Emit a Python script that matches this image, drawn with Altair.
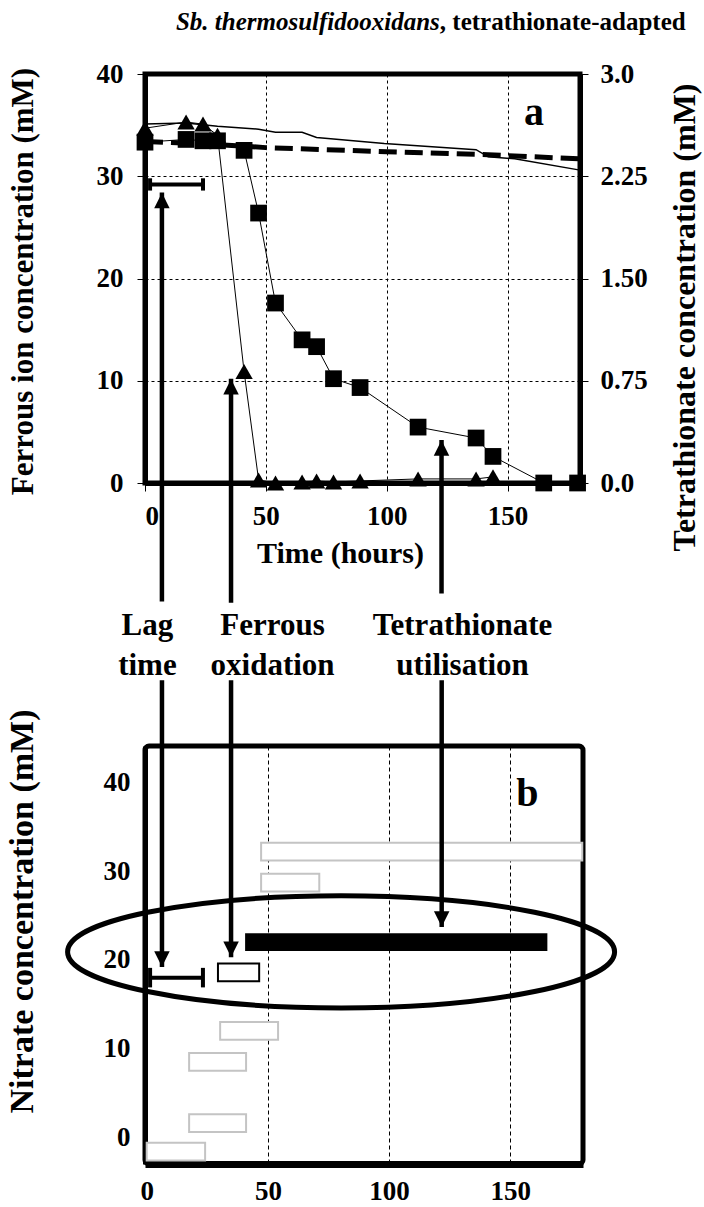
import altair as alt
import pandas as pd

FONT = "Liberation Serif"

# ---------------- Panel a data ----------------
# Ferrous ion (triangles, left axis, mM)
fe_hours = [0, 17, 24, 30, 41, 47, 54, 65, 71, 78, 89, 113, 137, 144]
fe_conc = [34.7, 35.3, 35.1, 34.0, 10.9, 0.3, 0.0, 0.1, 0.2, 0.1, 0.2, 0.4, 0.4, 0.6]

# Tetrathionate (squares, right axis, mM)
tet_hours = [0, 17, 24, 30, 41, 47, 54, 65, 71, 78, 89, 113, 137, 144, 165, 179]
tet_conc = [2.50, 2.52, 2.51, 2.51, 2.44, 1.98, 1.32, 1.05, 1.00, 0.765, 0.70, 0.41, 0.33, 0.195, 0.0, 0.0]

# Solid thin line (left axis)
solid_hours = [0, 17, 30, 47, 54, 65, 71, 99, 137, 142, 153, 180]
solid_vals = [35.1, 35.2, 34.9, 34.6, 34.3, 34.3, 33.8, 33.2, 32.6, 31.9, 31.7, 30.6]

# Thick dashed line (left axis)
dash_hours = [0, 30, 50, 100, 142, 180]
dash_vals = [33.4, 33.1, 32.8, 32.4, 32.1, 31.7]

# Lag bracket in panel a
lag_a_start, lag_a_end, lag_a_level, lag_a_cap = 2.1, 24.0, 29.2, 0.6

# Arrows (panel a part: pointing up)
arrow_hours_a = [7.0, 35.6, 122.7]
arrow_tip_a = [28.4, 10.2, 4.2]
arrow_base_a = [-11.6, -11.7, -10.8]

# Annotation labels
label_lines = ["Lag", "time", "Ferrous", "oxidation", "Tetrathionate", "utilisation"]
label_hours = [1.0, 1.0, 52.8, 52.8, 131.4, 131.4]
label_levels = [-14.9, -18.8, -14.9, -18.8, -14.9, -18.8]

# ---------------- Panel b data ----------------
gray_start = [47.2, 47.2, 30.3, 17.5, 17.5, 0.0]
gray_end = [179.7, 71.2, 54.2, 41.0, 41.0, 24.1]
gray_level = [32.2, 28.7, 12.0, 8.5, 1.6, -1.6]

black_start, black_end, black_level = [40.6], [165.3], [22.0]
box_start, box_end, box_level = [29.4], [46.4], [18.6]
bar_half = 1.0

lag_b_start, lag_b_end, lag_b_level, lag_b_cap = 1.4, 23.2, 18.0, 1.1

arrow_hours_b = [6.3, 34.8, 121.7]
arrow_tip_b = [19.2, 20.3, 23.7]
arrow_base_b = [51.5, 51.5, 51.5]

ellipse_hour, ellipse_level = [80.2], [20.9]

# ---------------- helpers ----------------
BLACK = "black"


def ax_x_a():
    return alt.X(
        "h:Q",
        scale=alt.Scale(domain=[0, 180], nice=False, zero=False),
        axis=alt.Axis(
            values=[0, 50, 100, 150], grid=True, gridColor=BLACK, gridDash=[3, 3], gridWidth=1,
            domainWidth=5, domainColor=BLACK, tickSize=8, tickWidth=1, tickColor=BLACK,
            labelPadding=12, labelFontSize=27, labelFont=FONT, labelFontWeight="bold", labelColor=BLACK,
            title="Time (hours)", titleX=195, titleY=70, titleAlign="center", titleBaseline="middle",
            titleFontSize=30, titleFont=FONT, titleFontWeight="bold", titleColor=BLACK,
        ),
    )


def ax_y_a():
    return alt.Y(
        "v:Q",
        scale=alt.Scale(domain=[0, 40], nice=False, zero=False),
        axis=alt.Axis(
            values=[0, 10, 20, 30, 40], grid=True, gridColor=BLACK, gridDash=[3, 3], gridWidth=1,
            domainWidth=5, domainColor=BLACK, tickSize=8, tickWidth=1, tickColor=BLACK,
            labelPadding=14, labelFontSize=27, labelFont=FONT, labelFontWeight="bold", labelColor=BLACK,
            title="Ferrous ion concentration (mM)", titleX=-122, titleY=207, titleAngle=270,
            titleAlign="center", titleBaseline="middle",
            titleFontSize=31, titleFont=FONT, titleFontWeight="bold", titleColor=BLACK,
        ),
    )


def ax_y_r():
    return alt.Y(
        "v:Q",
        scale=alt.Scale(domain=[0, 3], nice=False, zero=False),
        axis=alt.Axis(
            orient="right", values=[0, 0.75, 1.5, 2.25, 3.0],
            labelExpr="datum.value == 0 ? '0.0' : (datum.value == 3 ? '3.0' : format(datum.value, '.2f'))",
            grid=False, domainWidth=5, domainColor=BLACK, tickSize=8, tickWidth=1, tickColor=BLACK,
            labelPadding=12, labelFontSize=27, labelFont=FONT, labelFontWeight="bold", labelColor=BLACK,
            title="Tetrathionate concentration (mM)", titleX=104, titleY=243, titleAngle=270,
            titleAlign="center", titleBaseline="middle",
            titleFontSize=32, titleFont=FONT, titleFontWeight="bold", titleColor=BLACK,
        ),
    )


def ax_x_b():
    return alt.X(
        "h:Q",
        scale=alt.Scale(domain=[-0.7, 180], nice=False, zero=False),
        axis=alt.Axis(
            values=[0, 50, 100, 150], grid=True, gridColor=BLACK, gridDash=[4, 3], gridWidth=1,
            domainWidth=7, domainColor=BLACK, ticks=False, tickSize=0,
            labelPadding=14, labelFontSize=27, labelFont=FONT, labelFontWeight="bold", labelColor=BLACK,
            title=None,
        ),
    )


def ax_y_b():
    return alt.Y(
        "v:Q",
        scale=alt.Scale(domain=[-3, 44.1], nice=False, zero=False),
        axis=alt.Axis(
            values=[0, 10, 20, 30, 40], grid=False, domainWidth=5, domainColor=BLACK,
            ticks=False, tickSize=0,
            labelPadding=15, labelFontSize=27, labelFont=FONT, labelFontWeight="bold", labelColor=BLACK,
            title="Nitrate concentration (mM)", titleX=-123, titleY=165, titleAngle=270,
            titleAlign="center", titleBaseline="middle",
            titleFontSize=34, titleFont=FONT, titleFontWeight="bold", titleColor=BLACK,
        ),
    )


# ---------------- Panel a ----------------
solid_df = pd.DataFrame({"h": solid_hours, "v": solid_vals})
dash_df = pd.DataFrame({"h": dash_hours, "v": dash_vals})
fe_df = pd.DataFrame({"h": fe_hours, "v": fe_conc})
tet_df = pd.DataFrame({"h": tet_hours, "v": tet_conc})

solid_line = alt.Chart(solid_df).mark_line(color=BLACK, strokeWidth=1.5).encode(x=ax_x_a(), y=ax_y_a())
dash_line = alt.Chart(dash_df).mark_line(color=BLACK, strokeWidth=5, strokeDash=[18, 8]).encode(x=ax_x_a(), y=ax_y_a())
fe_line = alt.Chart(fe_df).mark_line(color=BLACK, strokeWidth=1).encode(x=ax_x_a(), y=ax_y_a())
fe_pts = alt.Chart(fe_df).mark_point(shape="triangle-up", filled=True, size=300, color=BLACK, opacity=1).encode(
    x=ax_x_a(), y=ax_y_a())

lag_a_df = pd.DataFrame({"h": [lag_a_start], "h2": [lag_a_end], "v": [lag_a_level]})
lag_a_rule = alt.Chart(lag_a_df).mark_rule(color=BLACK, strokeWidth=4).encode(x=ax_x_a(), x2="h2:Q", y=ax_y_a())
lag_a_caps_df = pd.DataFrame({"h": [lag_a_start, lag_a_end],
                              "v": [lag_a_level - lag_a_cap] * 2, "v2": [lag_a_level + lag_a_cap] * 2})
lag_a_caps = alt.Chart(lag_a_caps_df).mark_rule(color=BLACK, strokeWidth=4).encode(x=ax_x_a(), y=ax_y_a(), y2="v2:Q")

arr_a_df = pd.DataFrame({"h": arrow_hours_a, "v": arrow_base_a, "v2": arrow_tip_a})
arr_a_lines = alt.Chart(arr_a_df).mark_rule(color=BLACK, strokeWidth=4.5).encode(x=ax_x_a(), y=ax_y_a(), y2="v2:Q")
arr_a_head_df = pd.DataFrame({"h": arrow_hours_a, "v": arrow_tip_a})
arr_a_heads = alt.Chart(arr_a_head_df).mark_point(
    shape="M0,-1L-1,1L1,1Z", filled=True, size=240, color=BLACK, opacity=1, yOffset=8
).encode(x=ax_x_a(), y=ax_y_a())

lab_df = pd.DataFrame({"h": label_hours, "v": label_levels, "t": label_lines})
labels = alt.Chart(lab_df).mark_text(
    font=FONT, fontWeight="bold", fontSize=31, align="center", baseline="alphabetic", color=BLACK
).encode(x=ax_x_a(), y=ax_y_a(), text="t:N")

title_it = alt.Chart(pd.DataFrame({"h": [122.0], "v": [45.1], "t": ["Sb. thermosulfidooxidans"]})).mark_text(
    font=FONT, fontWeight="bold", fontStyle="italic", fontSize=25, align="right", baseline="middle", color=BLACK
).encode(x=ax_x_a(), y=ax_y_a(), text="t:N")
title_rest = alt.Chart(pd.DataFrame({"h": [122.0], "v": [45.1], "t": [",  tetrathionate-adapted"]})).mark_text(
    font=FONT, fontWeight="bold", fontSize=25, align="left", baseline="middle", color=BLACK
).encode(x=ax_x_a(), y=ax_y_a(), text="t:N")

tag_a = alt.Chart(pd.DataFrame({"h": [161], "v": [35.0], "t": ["a"]})).mark_text(
    font=FONT, fontWeight="bold", fontSize=40, align="center", baseline="alphabetic", color=BLACK
).encode(x=ax_x_a(), y=ax_y_a(), text="t:N")

sq_line = alt.Chart(tet_df).mark_line(color=BLACK, strokeWidth=1).encode(x=ax_x_a(), y=ax_y_r())
sq_pts = alt.Chart(tet_df).mark_point(shape="square", filled=True, size=280, color=BLACK, opacity=1).encode(
    x=ax_x_a(), y=ax_y_r())

left_group = alt.layer(
    solid_line, dash_line, fe_line, fe_pts, lag_a_rule, lag_a_caps,
    arr_a_lines, arr_a_heads, labels, title_it, title_rest, tag_a,
)
right_group = alt.layer(sq_line, sq_pts)

panel_a = alt.layer(right_group, left_group).resolve_scale(y="independent").properties(
    width=435, height=409, view=alt.ViewBackground(stroke=BLACK, strokeWidth=5, fill=None)
)

# ---------------- Panel b ----------------
gray_df = pd.DataFrame({"h": gray_start, "h2": gray_end,
                        "v": [g - bar_half for g in gray_level], "v2": [g + bar_half for g in gray_level]})
gray_bars = alt.Chart(gray_df).mark_rect(fill="white", stroke="#c4c4c4", strokeWidth=2).encode(
    x=ax_x_b(), x2="h2:Q", y=ax_y_b(), y2="v2:Q")

black_df = pd.DataFrame({"h": black_start, "h2": black_end,
                         "v": [b - bar_half for b in black_level], "v2": [b + bar_half for b in black_level]})
black_bar = alt.Chart(black_df).mark_rect(fill=BLACK).encode(x=ax_x_b(), x2="h2:Q", y=ax_y_b(), y2="v2:Q")

box_df = pd.DataFrame({"h": box_start, "h2": box_end,
                       "v": [b - bar_half for b in box_level], "v2": [b + bar_half for b in box_level]})
box_bar = alt.Chart(box_df).mark_rect(fill="white", stroke=BLACK, strokeWidth=2).encode(
    x=ax_x_b(), x2="h2:Q", y=ax_y_b(), y2="v2:Q")

lag_b_df = pd.DataFrame({"h": [lag_b_start], "h2": [lag_b_end], "v": [lag_b_level]})
lag_b_rule = alt.Chart(lag_b_df).mark_rule(color=BLACK, strokeWidth=4).encode(x=ax_x_b(), x2="h2:Q", y=ax_y_b())
lag_b_caps_df = pd.DataFrame({"h": [lag_b_start, lag_b_end],
                              "v": [lag_b_level - lag_b_cap] * 2, "v2": [lag_b_level + lag_b_cap] * 2})
lag_b_caps = alt.Chart(lag_b_caps_df).mark_rule(color=BLACK, strokeWidth=4).encode(x=ax_x_b(), y=ax_y_b(), y2="v2:Q")

arr_b_df = pd.DataFrame({"h": arrow_hours_b, "v": arrow_base_b, "v2": arrow_tip_b})
arr_b_lines = alt.Chart(arr_b_df).mark_rule(color=BLACK, strokeWidth=4.5).encode(x=ax_x_b(), y=ax_y_b(), y2="v2:Q")
arr_b_head_df = pd.DataFrame({"h": arrow_hours_b, "v": arrow_tip_b})
arr_b_heads = alt.Chart(arr_b_head_df).mark_point(
    shape="M0,1L-1,-1L1,-1Z", filled=True, size=240, color=BLACK, opacity=1, yOffset=-8
).encode(x=ax_x_b(), y=ax_y_b())

ell_df = pd.DataFrame({"h": ellipse_hour, "v": ellipse_level})
ellipse = alt.Chart(ell_df).mark_point(
    shape="M-1,0A1,0.205,0,1,0,1,0A1,0.205,0,1,0,-1,0Z", filled=False, size=299209,
    stroke=BLACK, strokeWidth=5, opacity=1
).encode(x=ax_x_b(), y=ax_y_b())

tag_b = alt.Chart(pd.DataFrame({"h": [157], "v": [37.3], "t": ["b"]})).mark_text(
    font=FONT, fontWeight="bold", fontSize=40, align="center", baseline="alphabetic", color=BLACK
).encode(x=ax_x_b(), y=ax_y_b(), text="t:N")

panel_b = alt.layer(
    gray_bars, black_bar, box_bar, lag_b_rule, lag_b_caps, arr_b_lines, arr_b_heads, ellipse, tag_b
).properties(
    width=438, height=418,
    view=alt.ViewBackground(stroke=BLACK, strokeWidth=5, cornerRadius=4, fill=None),
)

chart = alt.vconcat(panel_a, panel_b, spacing=263, bounds="flush").properties(
    autosize=alt.AutoSizeParams(type="none"),
    padding={"left": 145, "top": 74, "right": 559, "bottom": 1133},
).configure_view(stroke=None).configure(background="white")

chart.save("out.html", embed_options={"renderer": "svg", "actions": False})
